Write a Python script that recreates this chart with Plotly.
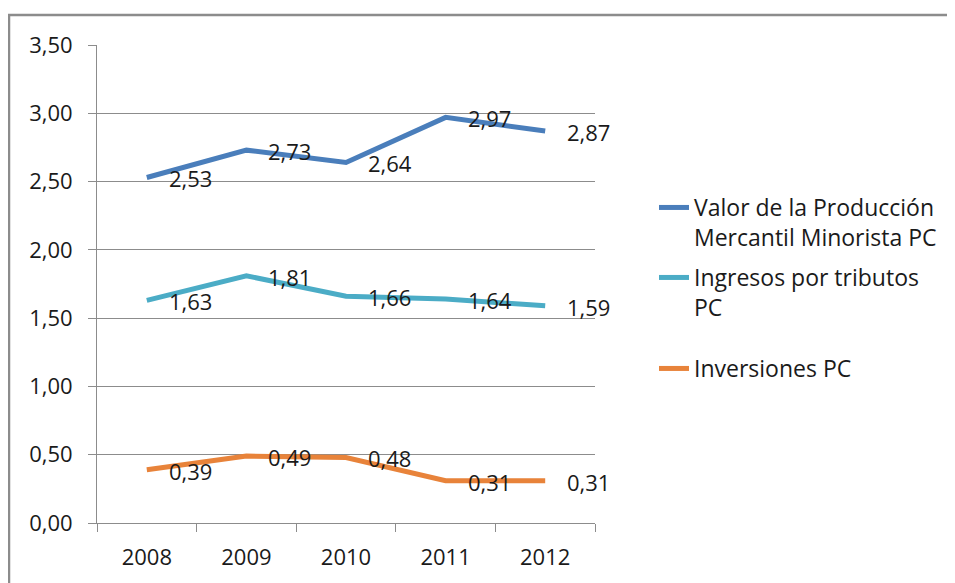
import plotly.graph_objects as go

years = ["2008", "2009", "2010", "2011", "2012"]
valor_produccion = [2.53, 2.73, 2.64, 2.97, 2.87]
ingresos_tributos = [1.63, 1.81, 1.66, 1.64, 1.59]
inversiones = [0.39, 0.49, 0.48, 0.31, 0.31]
series_names = ["Valor de la Producción<br>Mercantil Minorista PC",
                "Ingresos por tributos<br>PC",
                "Inversiones PC"]
y_ticks = [0, 0.5, 1.0, 1.5, 2.0, 2.5, 3.0, 3.5]

colors = ["#4A7EBB", "#4BACC6", "#E8833A"]
FONT = "Open Sans"
FS = 22
TXT = "#1a1a1a"

W, H = 955, 583
OFF = 8  # page body margin
# plot area in page pixels
L, R, T, B = 97, 595, 45, 523


def px_x(p):
    return (p - L) / (R - L)


def px_y(p):
    return (B - p) / (B - T)


fig = go.Figure()
all_series = [valor_produccion, ingresos_tributos, inversiones]
legend_ids = ["legend", "legend2", "legend3"]
for name, vals, c, lg in zip(series_names, all_series, colors, legend_ids):
    fig.add_trace(go.Scatter(x=years, y=vals, mode="lines", name=name,
                             line=dict(color=c, width=5), legend=lg,
                             hoverinfo="skip"))
    for i, yv in enumerate(vals):
        fig.add_annotation(x=i, y=yv, text=f"{yv:.2f}".replace(".", ","),
                           showarrow=False, xanchor="left", yanchor="middle",
                           xshift=20, yshift=-1,
                           font=dict(family=FONT, size=FS, color=TXT))

legend_tops = [186, 256, 347]
leg_common = dict(xanchor="left", yanchor="top", valign="top",
                  bgcolor="rgba(0,0,0,0)", borderwidth=0,
                  font=dict(family=FONT, size=23, color=TXT), itemwidth=30)

layout_legends = {}
for lg, top in zip(legend_ids, legend_tops):
    layout_legends[lg] = dict(x=px_x(654), y=px_y(top), **leg_common)

fig.update_layout(
    width=W, height=H,
    margin=dict(l=L - OFF, r=W - R + OFF, t=T - OFF, b=H - B + OFF),
    paper_bgcolor="white", plot_bgcolor="white",
    separators=",.",
    showlegend=True,
    font=dict(family=FONT, size=FS, color=TXT),
    xaxis=dict(type="category", categoryarray=years, range=[-0.5, 4.5],
               showgrid=False, showline=True, linecolor="#8C8C8C", linewidth=1,
               ticks="outside", tickson="boundaries", ticklen=8,
               tickcolor="#8C8C8C", tickfont=dict(family=FONT, size=FS, color=TXT),
               ticklabelstandoff=15),
    yaxis=dict(range=[0, 3.5], tickvals=y_ticks, tickformat=".2f",
               showgrid=True, gridcolor="#8C8C8C", gridwidth=1,
               showline=True, linecolor="#8C8C8C", linewidth=1,
               zeroline=False, ticks="outside", ticklen=8, tickcolor="#8C8C8C",
               tickfont=dict(family=FONT, size=FS, color=TXT),
               ticklabelstandoff=11),
    shapes=[dict(type="rect", xref="paper", yref="paper",
                 x0=px_x(9), x1=px_x(1000), y0=px_y(640), y1=px_y(15),
                 line=dict(color="#8C8C8C", width=2.5), layer="below")],
    **layout_legends,
)

fig.write_html("out.html")
